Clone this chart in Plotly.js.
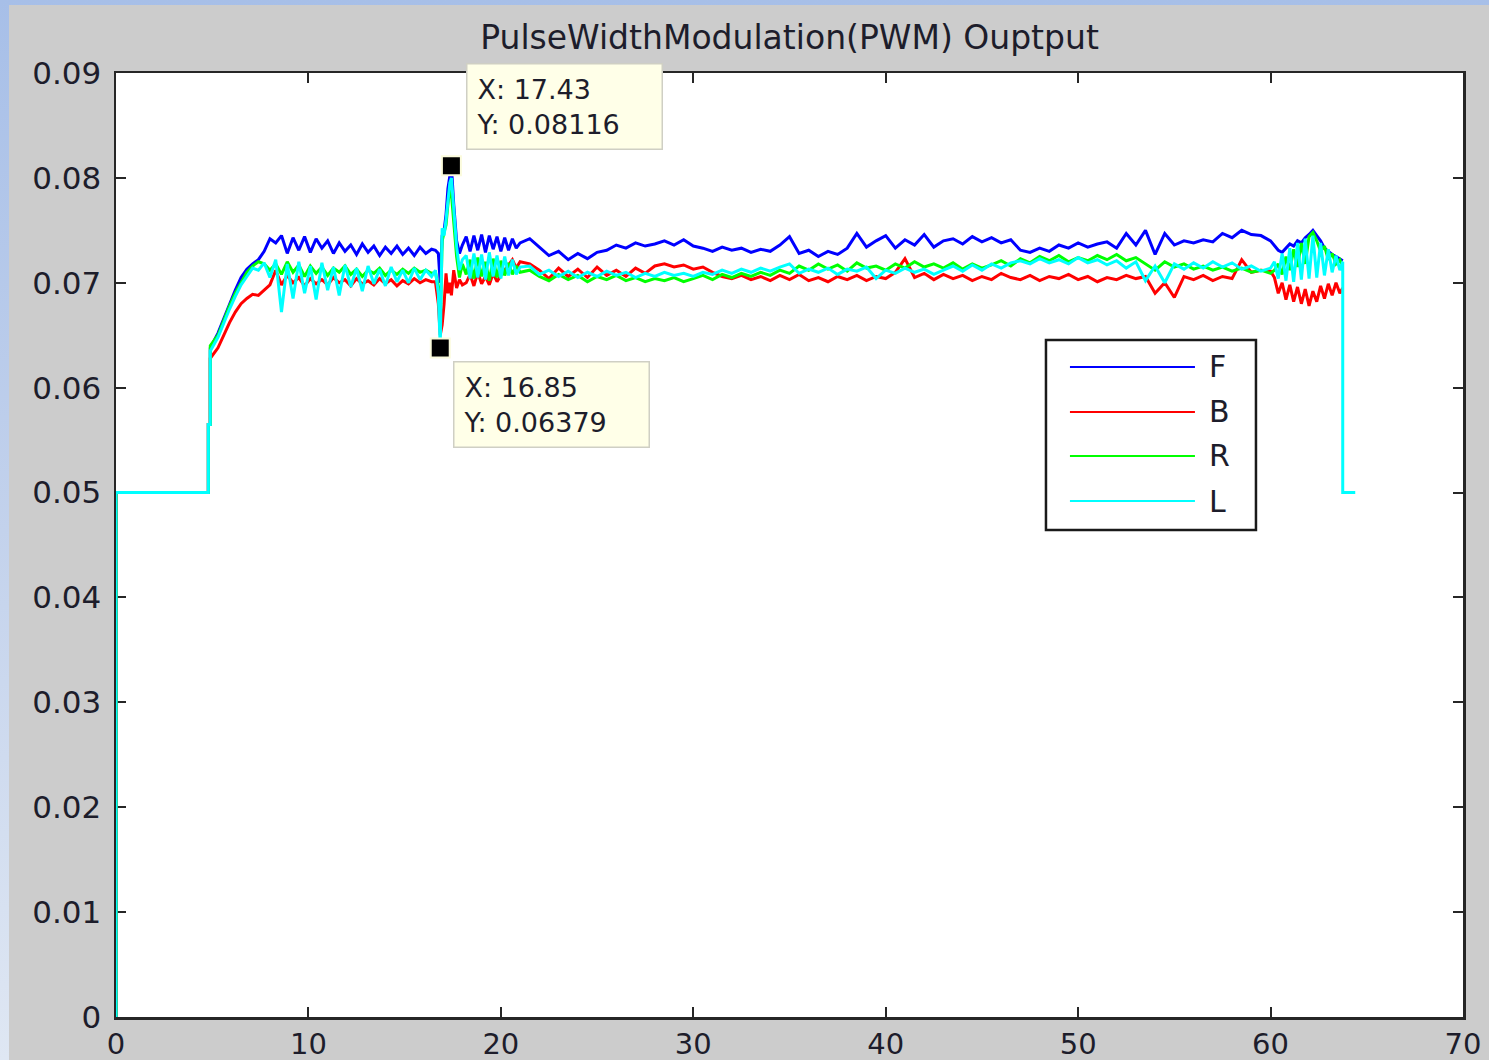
<!DOCTYPE html>
<html>
<head>
<meta charset="utf-8">
<script src="https://cdn.plot.ly/plotly-3.0.1.min.js"></script>
<style>
  html, body { margin: 0; padding: 0; width: 1489px; height: 1060px; overflow: hidden;
    background: linear-gradient(180deg, #a7bfe8 0%, #c3d2ec 50%, #dfe7f3 100%); }
  #chart { position: absolute; left: 9px; top: 5px; width: 1480px; height: 1055px; }
</style>
</head>
<body>
<div id="chart"></div>
<script>
// time axis (s)
const t = [
  0, 0, 4.8, 4.8, 4.9, 4.9, 5.3, 5.6, 5.9, 6.2, 6.5, 6.8, 7.1, 7.4, 7.7, 8.0,
  8.3, 8.6, 8.9, 9.2, 9.5, 9.8, 10.1, 10.4, 10.7, 11.0, 11.3, 11.6, 11.9, 12.2, 12.5, 12.8, 13.1, 13.4, 13.7, 14.0, 14.3, 14.6, 14.9, 15.2, 15.5, 15.8, 16.1, 16.4,
  16.6, 16.75, 16.85, 16.95, 17.05, 17.15, 17.25, 17.35, 17.43, 17.55, 17.7, 17.85, 18.0,
  18.2, 18.4, 18.6, 18.8, 19.0, 19.2, 19.4, 19.6, 19.8, 20.0, 20.2, 20.4, 20.6, 20.8, 21.0,
  21.5, 22, 22.5, 23, 23.5, 24, 24.5, 25, 25.5, 26, 26.5, 27, 27.5, 28, 28.5, 29, 29.5, 30, 30.5, 31, 31.5, 32, 32.5, 33, 33.5, 34, 34.5, 35, 35.5, 36, 36.5, 37, 37.5, 38, 38.5, 39, 39.5, 40,
  40.5, 41, 41.5, 42, 42.5, 43, 43.5, 44, 44.5, 45, 45.5, 46, 46.5, 47, 47.5, 48, 48.5, 49, 49.5, 50, 50.5, 51, 51.5, 52, 52.5, 53, 53.5, 54, 54.5, 55, 55.5, 56, 56.5, 57, 57.5, 58, 58.5, 59, 59.5, 60,
  60.2, 60.4, 60.6, 60.8, 61.0, 61.2, 61.4, 61.6, 61.8, 62.0, 62.2, 62.4, 62.6, 62.8, 63.0, 63.2, 63.4, 63.6, 63.75,
  63.75, 64.4
];

// F (front)
const F = [
  0, 0.05, 0.05, 0.0565, 0.0565, 0.0638, 0.0652, 0.0666, 0.0680, 0.0693, 0.0705, 0.0713, 0.0718, 0.0722, 0.0730, 0.0742,
  0.0738, 0.0745, 0.0728, 0.0743, 0.0731, 0.0744, 0.0729, 0.0742, 0.0733, 0.0740, 0.0728, 0.0738, 0.0730, 0.0736, 0.0727, 0.0737, 0.0729, 0.0735, 0.0726, 0.0734, 0.0728, 0.0735, 0.0727, 0.0733, 0.0726, 0.0734, 0.0728, 0.0732,
  0.0731, 0.0728, 0.0700, 0.0745, 0.0750, 0.0765, 0.0790, 0.0805, 0.08116, 0.0775, 0.0740, 0.0728, 0.0736,
  0.0744, 0.0730, 0.0745, 0.0731, 0.0746, 0.0729, 0.0745, 0.0732, 0.0744, 0.0730, 0.0743, 0.0731, 0.0742, 0.0733, 0.0738,
  0.0742, 0.0734, 0.0726, 0.0730, 0.0722, 0.0728, 0.0723, 0.0729, 0.0731, 0.0736, 0.0733, 0.0738, 0.0735, 0.0737, 0.0740, 0.0736, 0.0741, 0.0735, 0.0733, 0.0730, 0.0734, 0.0731, 0.0733, 0.0729, 0.0732, 0.0730, 0.0736, 0.0744, 0.0728, 0.0731, 0.0725, 0.0730, 0.0727, 0.0733, 0.0747, 0.0734, 0.0740, 0.0745,
  0.0733, 0.0741, 0.0736, 0.0746, 0.0734, 0.0740, 0.0742, 0.0737, 0.0744, 0.0739, 0.0743, 0.0738, 0.0741, 0.0731, 0.0729, 0.0733, 0.0730, 0.0736, 0.0733, 0.0738, 0.0734, 0.0737, 0.0739, 0.0733, 0.0747, 0.0736, 0.0750, 0.0727, 0.0747, 0.0736, 0.0740, 0.0738, 0.0741, 0.0739, 0.0747, 0.0743, 0.0750, 0.0746, 0.0745, 0.0740,
  0.0736, 0.0731, 0.0729, 0.0733, 0.0737, 0.0735, 0.0740, 0.0738, 0.0743, 0.0746, 0.0750, 0.0745, 0.0740, 0.0733, 0.0730, 0.0727, 0.0725, 0.0723, 0.0721,
  null, null
];

// B (back)
const B = [
  0, 0.05, 0.05, 0.0565, 0.0565, 0.0628, 0.0638, 0.0650, 0.0662, 0.0672, 0.0680, 0.0685, 0.0689, 0.0688, 0.0693, 0.0698,
  0.0712, 0.0698, 0.0707, 0.0700, 0.0705, 0.0697, 0.0704, 0.0699, 0.0703, 0.0698, 0.0705, 0.0700, 0.0703, 0.0697, 0.0704, 0.0699, 0.0702, 0.0698, 0.0704, 0.0699, 0.0703, 0.0697, 0.0702, 0.0699, 0.0704, 0.0700, 0.0703, 0.0701,
  0.0701, 0.0680, 0.0650, 0.0660, 0.0680, 0.0709, 0.0690, 0.0700, 0.0688, 0.0712, 0.0695, 0.0703, 0.0698,
  0.0700, 0.0708, 0.0697, 0.0710, 0.0699, 0.0706, 0.0698, 0.0709, 0.0701, 0.0707, 0.0712, 0.0718, 0.0722, 0.0714, 0.0720,
  0.0718, 0.0712, 0.0704, 0.0714, 0.0706, 0.0713, 0.0705, 0.0715, 0.0707, 0.0712, 0.0706, 0.0714, 0.0709, 0.0716, 0.0718, 0.0715, 0.0717, 0.0713, 0.0715, 0.0710, 0.0706, 0.0704, 0.0707, 0.0703, 0.0706, 0.0702, 0.0707, 0.0703, 0.0708, 0.0702, 0.0705, 0.0701, 0.0706, 0.0703, 0.0707, 0.0702, 0.0706, 0.0704,
  0.0710, 0.0723, 0.0705, 0.0709, 0.0703, 0.0708, 0.0704, 0.0707, 0.0702, 0.0706, 0.0703, 0.0709, 0.0705, 0.0703, 0.0707, 0.0702, 0.0706, 0.0704, 0.0708, 0.0703, 0.0706, 0.0701, 0.0705, 0.0703, 0.0707, 0.0704, 0.0706, 0.0690, 0.0700, 0.0686, 0.0706, 0.0703, 0.0707, 0.0702, 0.0706, 0.0704, 0.0722, 0.0710, 0.0712, 0.0711,
  0.0705, 0.0690, 0.0700, 0.0684, 0.0698, 0.0682, 0.0696, 0.0680, 0.0694, 0.0678, 0.0692, 0.0682, 0.0697, 0.0685, 0.0699, 0.0688, 0.0700, 0.0690, 0.0695,
  null, null
];

// R (right)
const R = [
  0, 0.05, 0.05, 0.0565, 0.0565, 0.0640, 0.0650, 0.0664, 0.0678, 0.0690, 0.0700, 0.0710, 0.0716, 0.0720, 0.0718, 0.0712,
  0.0718, 0.0708, 0.0720, 0.0710, 0.0717, 0.0706, 0.0716, 0.0709, 0.0715, 0.0707, 0.0714, 0.0710, 0.0716, 0.0708, 0.0713, 0.0706, 0.0712, 0.0709, 0.0714, 0.0707, 0.0712, 0.0708, 0.0713, 0.0709, 0.0714, 0.0710, 0.0712, 0.0709,
  0.0710, 0.0695, 0.0660, 0.0740, 0.0748, 0.0755, 0.0775, 0.0790, 0.0785, 0.0760, 0.0725, 0.0705, 0.0718,
  0.0708, 0.0722, 0.0704, 0.0724, 0.0706, 0.0720, 0.0702, 0.0723, 0.0705, 0.0721, 0.0707, 0.0719, 0.0708, 0.0716, 0.0710,
  0.0712, 0.0706, 0.0702, 0.0708, 0.0703, 0.0707, 0.0701, 0.0706, 0.0703, 0.0707, 0.0702, 0.0705, 0.0701, 0.0704, 0.0702, 0.0705, 0.0701, 0.0704, 0.0707, 0.0703, 0.0708, 0.0705, 0.0709, 0.0706, 0.0710, 0.0707, 0.0712, 0.0709, 0.0716, 0.0712, 0.0718, 0.0713, 0.0717, 0.0711, 0.0719, 0.0714, 0.0716, 0.0712,
  0.0718, 0.0714, 0.0720, 0.0715, 0.0718, 0.0714, 0.0719, 0.0713, 0.0718, 0.0714, 0.0717, 0.0721, 0.0716, 0.0723, 0.0719, 0.0725, 0.0721, 0.0726, 0.0720, 0.0724, 0.0721, 0.0726, 0.0722, 0.0727, 0.0721, 0.0724, 0.0718, 0.0712, 0.0720, 0.0715, 0.0718, 0.0713, 0.0716, 0.0712, 0.0715, 0.0711, 0.0714, 0.0710, 0.0712, 0.0709,
  0.0712, 0.0718, 0.0708, 0.0725, 0.0712, 0.0732, 0.0715, 0.0738, 0.0718, 0.0744, 0.0748, 0.0740, 0.0730, 0.0735, 0.0722, 0.0728, 0.0718, 0.0722, 0.0716,
  null, null
];

// L (left)
const L = [
  0, 0.05, 0.05, 0.0565, 0.0565, 0.0635, 0.0648, 0.0662, 0.0675, 0.0687, 0.0698, 0.0706, 0.0714, 0.0712, 0.0719, 0.0705,
  0.0722, 0.0672, 0.0718, 0.0685, 0.0720, 0.0690, 0.0716, 0.0684, 0.0719, 0.0693, 0.0715, 0.0688, 0.0717, 0.0696, 0.0714, 0.0692, 0.0716, 0.0699, 0.0713, 0.0697, 0.0715, 0.0701, 0.0712, 0.0700, 0.0714, 0.0703, 0.0712, 0.0706,
  0.0712, 0.0690, 0.0638, 0.0752, 0.0745, 0.0760, 0.0780, 0.0795, 0.0800, 0.0770, 0.0735, 0.0712, 0.0722,
  0.0726, 0.0704, 0.0728, 0.0705, 0.0727, 0.0703, 0.0729, 0.0706, 0.0726, 0.0704, 0.0725, 0.0707, 0.0722, 0.0708, 0.0715,
  0.0716, 0.0708, 0.0712, 0.0706, 0.0711, 0.0705, 0.0710, 0.0706, 0.0711, 0.0707, 0.0710, 0.0705, 0.0709, 0.0706, 0.0710, 0.0707, 0.0709, 0.0706, 0.0710, 0.0708, 0.0712, 0.0709, 0.0713, 0.0710, 0.0714, 0.0711, 0.0715, 0.0718, 0.0709, 0.0713, 0.0710, 0.0714, 0.0708, 0.0713, 0.0711, 0.0715, 0.0704, 0.0712,
  0.0709, 0.0714, 0.0710, 0.0713, 0.0708, 0.0712, 0.0716, 0.0711, 0.0717, 0.0712, 0.0718, 0.0714, 0.0719, 0.0721, 0.0718, 0.0723, 0.0719, 0.0722, 0.0718, 0.0724, 0.0719, 0.0722, 0.0717, 0.0721, 0.0714, 0.0720, 0.0702, 0.0716, 0.0700, 0.0718, 0.0713, 0.0719, 0.0714, 0.0720, 0.0715, 0.0719, 0.0713, 0.0716, 0.0711, 0.0714,
  0.0720, 0.0704, 0.0728, 0.0702, 0.0733, 0.0701, 0.0738, 0.0703, 0.0742, 0.0704, 0.0745, 0.0705, 0.0738, 0.0707, 0.0732, 0.0710, 0.0726, 0.0712, 0.0720,
  0.05, 0.05
];

const seriesNames = ['F', 'B', 'R', 'L'];
const seriesColors = ['#0000ff', '#ff0000', '#00ff00', '#00ffff'];
const seriesData = [F, B, R, L];

// data tips
const tipX = [17.43, 16.85];
const tipY = [0.08116, 0.06379];

const FONT = 'DejaVu Sans, Liberation Sans, Arial, sans-serif';
const TXT = '#1d1d2b';

const traces = seriesData.map((y, i) => ({
  type: 'scatter', mode: 'lines', x: t, y: y, name: seriesNames[i],
  line: { color: seriesColors[i], width: 3 }, connectgaps: false, showlegend: false
}));
traces.push({
  type: 'scatter', mode: 'markers', x: tipX, y: tipY, showlegend: false,
  marker: { symbol: 'square', size: 19, color: '#000000', line: { color: '#fbfbdc', width: 2 } }
});

// manual legend (paper coords relative to plot area)
const legY = [0.6886, 0.6409, 0.5943, 0.5466];
const shapes = [
  { type: 'rect', xref: 'paper', yref: 'paper', x0: 0.6904, x1: 0.8463, y0: 0.5159, y1: 0.7172,
    fillcolor: '#ffffff', line: { color: '#1a1a1a', width: 2.5 }, layer: 'above' }
];
const annotations = [];
seriesNames.forEach((n, i) => {
  shapes.push({ type: 'line', xref: 'paper', yref: 'paper', x0: 0.7082, x1: 0.8010, y0: legY[i], y1: legY[i],
    line: { color: seriesColors[i], width: 2 }, layer: 'above' });
  annotations.push({ xref: 'paper', yref: 'paper', x: 0.8100, y: legY[i], xanchor: 'left', yanchor: 'middle',
    text: n, showarrow: false, font: { family: FONT, size: 30, color: TXT } });
});

// data tip boxes
const tipShift = [[113, 59], [111, -57]];
tipX.forEach((x, i) => {
  annotations.push({
    x: x, y: tipY[i], xref: 'x', yref: 'y', showarrow: false,
    xshift: tipShift[i][0], yshift: tipShift[i][1], xanchor: 'center', yanchor: 'middle',
    text: 'X: ' + x + '<br>Y: ' + tipY[i], align: 'left',
    font: { family: FONT, size: 27, color: TXT },
    bgcolor: '#ffffe8', bordercolor: '#cfcfc4', borderwidth: 1.5, borderpad: 9, width: 176
  });
});

const axisCommon = {
  showgrid: false, zeroline: false, showline: true, linecolor: '#262626', linewidth: 2.5,
  mirror: 'ticks', ticks: 'inside', ticklen: 10, tickwidth: 2, tickcolor: '#262626'
};

const layout = {
  width: 1480, height: 1055,
  margin: { l: 107, r: 26, t: 68, b: 43, pad: 0 },
  paper_bgcolor: '#cccccc', plot_bgcolor: '#ffffff',
  title: { text: 'PulseWidthModulation(PWM) Ouptput', xref: 'paper', x: 0.5, xanchor: 'center',
    y: 0.969, yanchor: 'middle', font: { family: FONT, size: 33, color: TXT } },
  xaxis: Object.assign({}, axisCommon, { range: [0, 70], tick0: 0, dtick: 10, ticklabelstandoff: 0,
    tickfont: { family: FONT, size: 29, color: TXT } }),
  yaxis: Object.assign({}, axisCommon, { range: [0, 0.09], tick0: 0, dtick: 0.01, ticklabelstandoff: 6, layer: 'below traces',
    tickfont: { family: FONT, size: 31, color: TXT } }),
  shapes: shapes, annotations: annotations, hovermode: false, showlegend: false
};

Plotly.newPlot('chart', traces, layout, { staticPlot: true, displayModeBar: false });
</script>
</body>
</html>
